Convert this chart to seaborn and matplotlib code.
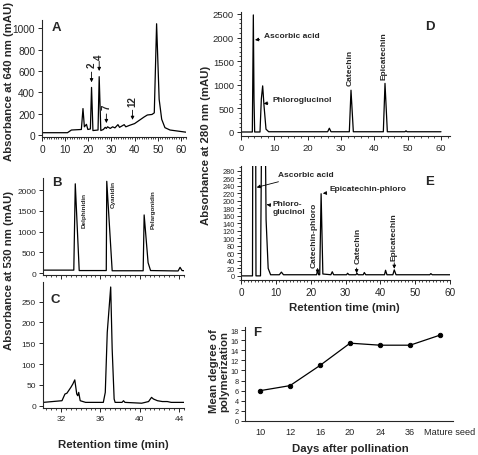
import numpy as np
import pandas as pd
import matplotlib
matplotlib.use("Agg")
import matplotlib.pyplot as plt
import matplotlib.transforms as mtrans
import seaborn as sns
from matplotlib.ticker import MultipleLocator

# ---------------- data ----------------
# Panel A: chromatogram at 640 nm
a_time = [0, 11.0, 12.7, 17.0, 17.7, 18.3, 19.2, 19.8, 20.9, 21.4, 22.0, 24.2, 24.7, 25.4,
          26.5, 27.3, 27.8, 28.3, 29.5, 30.5, 31.5, 32.8, 33.5, 35.5, 36.2, 38.0, 40.0,
          42.0, 44.0, 45.5, 47.5, 48.5, 49.5, 50.6, 51.7, 53.1, 55.3, 61.8, 62.2]
a_abs = [25, 25, 50, 55, 250, 80, 103, 55, 60, 447, 45, 50, 547, 45,
         55, 75, 65, 80, 65, 80, 70, 100, 75, 100, 80, 95, 110,
         140, 170, 190, 195, 210, 1040, 337, 150, 72, 50, 31, 30]
a_peak_ids = ["2", "4", "7", "12"]
a_peak_times = [21.4, 24.7, 27.8, 39.1]

# Panel B: anthocyanidin standards at 530 nm
b_time = [30.2, 33.3, 33.45, 33.85, 36.6, 36.65, 37.2, 40.35, 40.45, 40.85, 41.1,
          43.9, 44.1, 44.3, 44.6]
b_abs = [70, 70, 2150, 60, 60, 2210, 55, 55, 1400, 250, 60, 50, 137, 60, 55]
b_names = ["Delphinidin", "Cyanidin", "Pelargonidin"]

# Panel C: sample at 530 nm
c_time = [30.2, 32.1, 32.4, 32.6, 33.0, 33.2, 33.4, 33.6, 33.7, 33.8, 33.95, 34.5,
          36.3, 36.5, 36.7, 37.05, 37.2, 37.4, 37.5, 38.2, 38.35, 38.5, 40.2, 40.9,
          41.2, 41.4, 41.8, 42.3, 42.8, 43.2, 44.5]
c_abs = [8, 12, 28, 30, 44, 52, 62, 28, 24, 32, 12, 8,
         8, 32, 176, 285, 136, 16, 8, 8, 12, 8, 6, 10,
         20, 16, 12, 10, 10, 8, 8]

# Panel D: standards at 280 nm
d_time = [0, 3.4, 3.7, 3.9, 4.1, 5.7, 6.1, 6.5, 6.9, 7.5, 8.3, 26.0, 26.5, 27.0,
          32.5, 33.0, 33.7, 42.7, 43.2, 43.9, 49.2, 49.5, 49.8, 60]
d_abs = [0, 0, 2480, 700, 0, 0, 700, 977, 560, 60, 5, 5, 80, 5,
         5, 885, 5, 5, 1030, 5, 5, 25, 5, 5]

# Panel E: phloroglucinolysis products at 280 nm
e_time = [0, 3.3, 3.75, 4.3, 5.6, 6.4, 7.2, 7.8, 8.5, 11.0, 11.6, 12.2, 21.7, 22.0,
          22.3, 22.6, 23.0, 23.5, 25.8, 26.2, 26.6, 30.3, 30.6, 31.0, 33.0, 33.3,
          33.6, 35.1, 35.4, 35.8, 41.2, 41.5, 41.9, 43.6, 44.0, 44.5, 54.2, 54.5,
          54.9, 60]
e_abs = [0, 0, 2480, 0, 0, 977, 150, 20, 3, 3, 10, 3, 3, 15,
         3, 3, 219, 5, 3, 11, 3, 3, 7, 3, 3, 7,
         3, 3, 9, 3, 3, 15, 3, 3, 16, 3, 3, 6,
         3, 3]

# Panel F: mean degree of polymerization
f_days = ["10", "12", "16", "20", "24", "36", "Mature seed"]
f_mdp = [6.0, 7.0, 11.0, 15.4, 15.0, 15.0, 17.0]

# ---------------- style ----------------
sns.set_style("ticks")
plt.rcParams["font.family"] = ["Liberation Sans", "DejaVu Sans"]
plt.rcParams["axes.linewidth"] = 0.8
plt.rcParams["xtick.major.width"] = 0.7
plt.rcParams["ytick.major.width"] = 0.7
plt.rcParams["xtick.minor.width"] = 0.6
plt.rcParams["ytick.minor.width"] = 0.6
plt.rcParams["xtick.major.size"] = 3
plt.rcParams["ytick.major.size"] = 3
plt.rcParams["xtick.minor.size"] = 1.6
plt.rcParams["ytick.minor.size"] = 1.6
plt.rcParams["xtick.major.pad"] = 2
plt.rcParams["ytick.major.pad"] = 2

W, H = 478, 456
fig = plt.figure(figsize=(W / 100, H / 100), dpi=100)


def box(l, t, r, b):
    return [l / W, 1 - b / H, (r - l) / W, (b - t) / H]


LW = 0.9
arrow = dict(arrowstyle="-|>", color="black", lw=0.6, mutation_scale=5,
             shrinkA=0, shrinkB=0)


def trace(ax, x, y):
    sns.lineplot(x=x, y=y, ax=ax, color="black", lw=LW, sort=False,
                 estimator=None, legend=False)
    ax.set_xlabel("")
    ax.set_ylabel("")
    sns.despine(ax=ax)


# ---------- A ----------
axA = fig.add_axes(box(42, 21, 186, 138))
trace(axA, a_time, a_abs)
axA.set_xlim(0, 62.2)
axA.set_ylim(-15, 1075)
axA.xaxis.set_major_locator(MultipleLocator(10))
axA.xaxis.set_minor_locator(MultipleLocator(1))
axA.yaxis.set_major_locator(MultipleLocator(200))
axA.tick_params(labelsize=7.3)
a_text_y = [660, 740, 270, 320]
a_tail_y = [590, 690, 200, 235]
a_tip_y = [495, 600, 115, 145]
for pid, t, ty, tl, tp in zip(a_peak_ids, a_peak_times, a_text_y, a_tail_y, a_tip_y):
    axA.annotate("", xy=(t, tp), xytext=(t, tl), arrowprops=arrow)
    axA.text(t, ty, pid, rotation=90, ha="center", va="center",
             fontsize=7, fontweight="bold")
axA.text(0.10, 0.94, "A", transform=axA.transAxes, fontsize=9.5,
         fontweight="bold", ha="center", va="center")

# ---------- B ----------
axB = fig.add_axes(box(43, 179, 184, 275.7))
trace(axB, b_time, b_abs)
axB.set_xlim(30.17, 44.5)
axB.set_ylim(-40, 2290)
axB.xaxis.set_major_locator(MultipleLocator(4))
axB.xaxis.set_minor_locator(MultipleLocator(0.5))
axB.yaxis.set_major_locator(MultipleLocator(500))
axB.tick_params(labelsize=6)
b_label_xy = [(34.3, 1950), (37.3, 2230), (41.4, 2030)]
for name, (lx, ly) in zip(b_names, b_label_xy):
    axB.text(lx, ly, name, rotation=90, ha="center", va="top",
             fontsize=4.6, fontweight="bold")
axB.text(0.10, 0.96, "B", transform=axB.transAxes, fontsize=9.5,
         fontweight="bold", ha="center", va="center")

# ---------- C ----------
axC = fig.add_axes(box(43, 283, 184, 409))
trace(axC, c_time, c_abs)
axC.set_xlim(30.17, 44.5)
axC.set_ylim(-5.5, 297)
axC.xaxis.set_major_locator(MultipleLocator(4))
axC.xaxis.set_minor_locator(MultipleLocator(0.5))
axC.yaxis.set_major_locator(MultipleLocator(50))
axC.tick_params(labelsize=6)
axC.text(0.09, 0.865, "C", transform=axC.transAxes, fontsize=9.5,
         fontweight="bold", ha="center", va="center")

# ---------- D ----------
axD = fig.add_axes(box(241, 13, 450, 137))
trace(axD, d_time, d_abs)
axD.set_xlim(0, 62.7)
axD.set_ylim(-85, 2542)
axD.xaxis.set_major_locator(MultipleLocator(10))
axD.xaxis.set_minor_locator(MultipleLocator(2))
axD.yaxis.set_major_locator(MultipleLocator(500))
axD.yaxis.set_minor_locator(MultipleLocator(100))
axD.tick_params(labelsize=6.8)
fs_lab = 6
axD.annotate("Ascorbic acid", xy=(4.2, 1950), xytext=(7.0, 2040), ha="left",
             va="center", fontsize=fs_lab, fontweight="bold",
             arrowprops=dict(arrow, shrinkA=1))
axD.annotate("Phloroglucinol", xy=(6.8, 600), xytext=(9.5, 694), ha="left",
             va="center", fontsize=fs_lab, fontweight="bold",
             arrowprops=dict(arrow, shrinkA=1))
axD.text(32.8, 990, "Catechin", rotation=90, ha="center", va="bottom",
         fontsize=fs_lab, fontweight="bold")
axD.text(42.8, 1120, "Epicatechin", rotation=90, ha="center", va="bottom",
         fontsize=fs_lab, fontweight="bold")
axD.text(0.904, 0.887, "D", transform=axD.transAxes, fontsize=9.5,
         fontweight="bold", ha="center", va="center")

# ---------- E ----------
axE = fig.add_axes(box(241, 167, 450, 281))
trace(axE, e_time, e_abs)
axE.set_xlim(0, 60)
axE.set_ylim(-11, 293)
axE.xaxis.set_major_locator(MultipleLocator(10))
axE.xaxis.set_minor_locator(MultipleLocator(1))
axE.yaxis.set_major_locator(MultipleLocator(20))
axE.yaxis.set_minor_locator(MultipleLocator(10))
axE.tick_params(axis="x", labelsize=7.2)
axE.tick_params(axis="y", labelsize=5.3, pad=1.5)
axE.annotate("Ascorbic acid", xy=(4.5, 236), xytext=(10.7, 270), ha="left",
             va="center", fontsize=fs_lab, fontweight="bold",
             arrowprops=dict(arrow, shrinkA=1))
axE.annotate("Phloro-\nglucinol", xy=(7.4, 190), xytext=(9.1, 182), ha="left",
             va="center", fontsize=fs_lab, fontweight="bold", linespacing=1.3,
             arrowprops=dict(arrow, shrinkA=1))
axE.annotate("Epicatechin-phloro", xy=(23.5, 220), xytext=(25.5, 232), ha="left",
             va="center", fontsize=fs_lab, fontweight="bold",
             arrowprops=dict(arrow, shrinkA=1))
axE.text(20.9, 24, "Catechin-phloro", rotation=90, ha="center", va="bottom",
         fontsize=fs_lab, fontweight="bold")
axE.annotate("", xy=(22.0, 6), xytext=(22.0, 20), arrowprops=arrow)
axE.text(33.5, 34, "Catechin", rotation=90, ha="center", va="bottom",
         fontsize=fs_lab, fontweight="bold")
axE.annotate("", xy=(33.2, 7), xytext=(33.2, 21), arrowprops=arrow)
axE.text(44.0, 42, "Epicatechin", rotation=90, ha="center", va="bottom",
         fontsize=fs_lab, fontweight="bold")
axE.annotate("", xy=(44.0, 19), xytext=(44.0, 35), arrowprops=arrow)
axE.text(0.904, 0.868, "E", transform=axE.transAxes, fontsize=9.5,
         fontweight="bold", ha="center", va="center")

# ---------- F ----------
axF = fig.add_axes(box(245, 328, 453, 422))
dfF = pd.DataFrame({"days": f_days, "mdp": f_mdp})
sns.pointplot(data=dfF, x="days", y="mdp", ax=axF, color="black",
              markers="o", markersize=3.2, linewidth=0.9, errorbar=None)
axF.set_xlabel("")
axF.set_ylabel("")
sns.despine(ax=axF)
axF.set_xlim(-0.5, 6.43)
axF.set_ylim(0, 18.6)
axF.yaxis.set_major_locator(MultipleLocator(2))
axF.tick_params(axis="x", labelsize=6.6, length=0, pad=4)
axF.tick_params(axis="y", labelsize=5.3, pad=1.5)
# last category label sits slightly right of its point, as in the original
last_lab = axF.get_xticklabels()[-1]
last_lab.set_transform(last_lab.get_transform() +
                       mtrans.ScaledTranslation(10 / 100, 0, fig.dpi_scale_trans))
axF.text(0.058, 0.947, "F", transform=axF.transAxes, fontsize=9.5,
         fontweight="bold", ha="center", va="center")

# ---------- shared axis labels ----------
lab = dict(fontsize=8.2, fontweight="bold", ha="center", va="center")
fig.text(9.5 / W, 1 - 81 / H, "Absorbance at 640 nm (mAU)", rotation=90, **lab)
fig.text(9.5 / W, 1 - 270 / H, "Absorbance at 530 nm (mAU)", rotation=90, **lab)
fig.text(206 / W, 1 - 145 / H, "Absorbance at 280 nm (mAU)", rotation=90, **lab)
fig.text(219 / W, 1 - 371 / H, "Mean degree of\npolymerization", rotation=90,
         linespacing=1.1, **lab)
fig.text(113.5 / W, 1 - 445 / H, "Retention time (min)", **lab)
fig.text(344.5 / W, 1 - 308 / H, "Retention time (min)", **lab)
fig.text(350 / W, 1 - 449 / H, "Days after pollination", **lab)

fig.savefig("out.png", dpi=100)
